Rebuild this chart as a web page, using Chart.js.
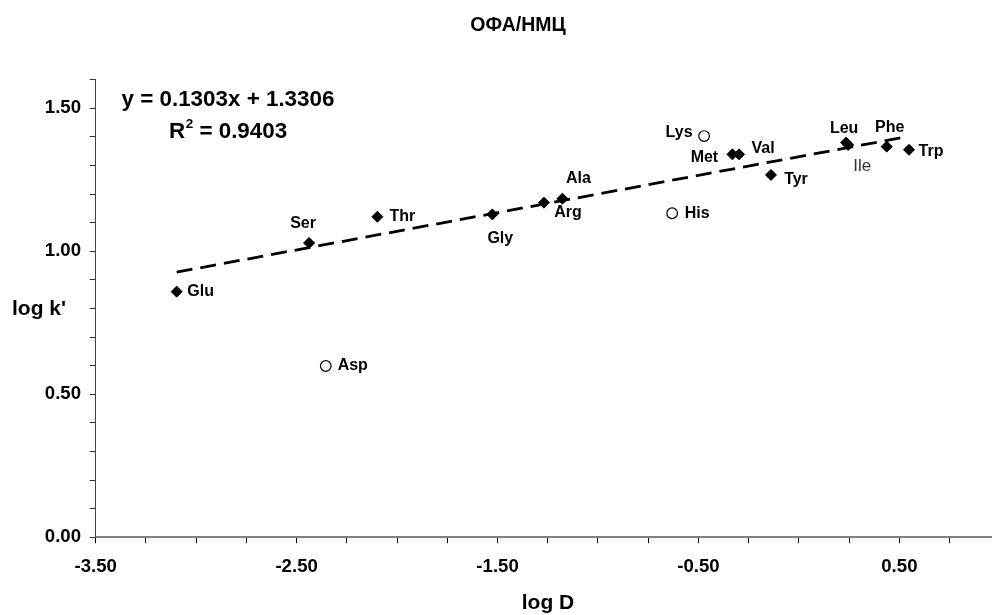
<!DOCTYPE html>
<html><head><meta charset="utf-8">
<script src="https://cdn.jsdelivr.net/npm/chart.js@4.4.0/dist/chart.umd.min.js"></script>
<style>html,body{margin:0;padding:0;background:#fff;}#wrap{width:992px;height:615px;}</style>
</head><body><div id="wrap"><canvas id="c" width="992" height="615"></canvas></div>
<script>
// ---- data ----
const filledNames = ['Glu','Ser','Thr','Gly','Arg','Ala','Met','Val','Tyr','Leu','Ile','Phe','Trp'];
const filledLogD  = [-3.097,-2.438,-2.098,-1.526,-1.269,-1.177,-0.331,-0.298,-0.139,0.235,0.245,0.437,0.548];
const filledLogK  = [0.859,1.029,1.121,1.129,1.170,1.184,1.339,1.339,1.267,1.380,1.372,1.366,1.355];
const openNames = ['Asp','His','Lys'];
const openLogD  = [-2.355,-0.631,-0.472];
const openLogK  = [0.599,1.133,1.403];
const trendSlope = 0.1303;
const trendIntercept = 1.3306;
const trendR2 = 0.9403;
const trendRange = [-3.097, 0.515];
const xTickLabels = ['-3.50','-2.50','-1.50','-0.50','0.50'];
const yTickLabels = ['0.00','0.50','1.00','1.50'];
const titleText = 'ОФА/НМЦ';
const xTitle = 'log D';
const yTitle = "log k'";

// ---- label placement (pixel offsets from each marker) ----
const labelOffsets = {Glu:[24,0],Ser:[-6,-19],Thr:[25,0],Gly:[8,24],Arg:[24,10],Ala:[16,-20],
  Met:[-28,3],Val:[24,-6],Tyr:[25,5],Leu:[-2,-14],Ile:[14,21],Phe:[3,-19],Trp:[22,2],
  Asp:[27,0],His:[25,0],Lys:[-25,-3]};

const FONT = '"Liberation Sans", Arial, sans-serif';
const toXY = (xs, ys) => xs.map((x, i) => ({x, y: ys[i]}));
const trendData = trendRange.map(x => ({x, y: trendSlope * x + trendIntercept}));

const labelPlugin = {
  id: 'labels',
  afterDatasetsDraw(chart) {
    const ctx = chart.ctx;
    ctx.save();
    ctx.textAlign = 'center';
    ctx.textBaseline = 'middle';
    chart.data.datasets.forEach((ds, di) => {
      if (!ds.names) return;
      const meta = chart.getDatasetMeta(di);
      ds.names.forEach((n, i) => {
        const p = meta.data[i];
        const o = labelOffsets[n] || [20, 0];
        if (n === 'Ile') { ctx.font = '17px ' + FONT; ctx.fillStyle = '#333'; }
        else { ctx.font = 'bold 16px ' + FONT; ctx.fillStyle = '#000'; }
        ctx.fillText(n, p.x + o[0], p.y + o[1]);
      });
    });
    ctx.restore();
  }
};

const textPlugin = {
  id: 'texts',
  afterDraw(chart) {
    const ctx = chart.ctx;
    ctx.save();
    ctx.fillStyle = '#000';
    ctx.textBaseline = 'middle';
    ctx.textAlign = 'center';
    ctx.font = 'bold 19.5px ' + FONT;
    ctx.fillText(titleText, 518, 26);
    ctx.font = 'bold 21px ' + FONT;
    ctx.fillText(yTitle, 39, 309);
    ctx.fillText(xTitle, 548, 603);
    // equation
    ctx.textAlign = 'left';
    ctx.font = 'bold 22.4px ' + FONT;
    ctx.fillText('y = ' + trendSlope.toFixed(4) + 'x + ' + trendIntercept.toFixed(4), 121.5, 100);
    let x = 169;
    ctx.fillText('R', x, 132);
    x += ctx.measureText('R').width;
    ctx.font = 'bold 13.5px ' + FONT;
    ctx.fillText('2', x + 0.5, 124);
    x += ctx.measureText('2').width + 0.5;
    ctx.font = 'bold 22.4px ' + FONT;
    ctx.fillText(' = ' + trendR2.toFixed(4), x, 132);
    ctx.restore();
  }
};

new Chart(document.getElementById('c'), {
  type: 'scatter',
  data: {
    datasets: [
      {
        type: 'line', data: trendData, borderColor: '#000', borderWidth: 2.8,
        borderDash: [16, 8], pointRadius: 0, fill: false, order: 3
      },
      {
        data: toXY(filledLogD, filledLogK), names: filledNames,
        pointStyle: 'rectRot', pointRadius: 5.5, backgroundColor: '#000', borderColor: '#000',
        borderWidth: 1, order: 1
      },
      {
        data: toXY(openLogD, openLogK), names: openNames,
        pointStyle: 'circle', pointRadius: 5.3, backgroundColor: '#fff', borderColor: '#000',
        borderWidth: 1.2, order: 2
      }
    ]
  },
  options: {
    responsive: false, animation: false, devicePixelRatio: 1,
    layout: {autoPadding: false, padding: {top: 79.7, right: 0, bottom: 0, left: 0}},
    plugins: {legend: {display: false}, tooltip: {enabled: false}, title: {display: false}},
    scales: {
      x: {
        type: 'linear', min: -3.5, max: 0.961,
        afterBuildTicks(s) {
          const t = [];
          for (let k = 0; k <= 17; k++) t.push({value: Math.round((-3.5 + k * 0.25) * 100) / 100});
          s.ticks = t;
        },
        afterFit(s) { s.height = 77.7; s.paddingRight = 0; s.paddingLeft = 0; },
        ticks: {
          autoSkip: false, maxRotation: 0, minRotation: 0, padding: 12, color: '#000',
          font: {family: FONT, size: 18.6, weight: 'bold'},
          callback: v => { const l = v.toFixed(2); return xTickLabels.includes(l) ? l : ''; }
        },
        grid: {drawOnChartArea: false, drawTicks: true, tickLength: 6, tickColor: '#000', tickWidth: 1},
        border: {display: true, color: '#808080', width: 2}
      },
      y: {
        type: 'linear', min: 0, max: 1.6,
        afterBuildTicks(s) {
          const t = [];
          for (let k = 0; k <= 16; k++) t.push({value: Math.round(k * 0.1 * 100) / 100});
          s.ticks = t;
        },
        afterFit(s) { s.width = 95.7; s.paddingTop = 0; s.paddingBottom = 0; },
        ticks: {
          autoSkip: false, padding: 8.7, color: '#000',
          font: {family: FONT, size: 18.6, weight: 'bold'},
          callback: v => { const l = v.toFixed(2); return yTickLabels.includes(l) ? l : ''; }
        },
        grid: {drawOnChartArea: false, drawTicks: true, tickLength: 6, tickColor: '#333', tickWidth: 1},
        border: {display: true, color: '#444', width: 1}
      }
    }
  },
  plugins: [labelPlugin, textPlugin]
});
</script>
</body></html>
